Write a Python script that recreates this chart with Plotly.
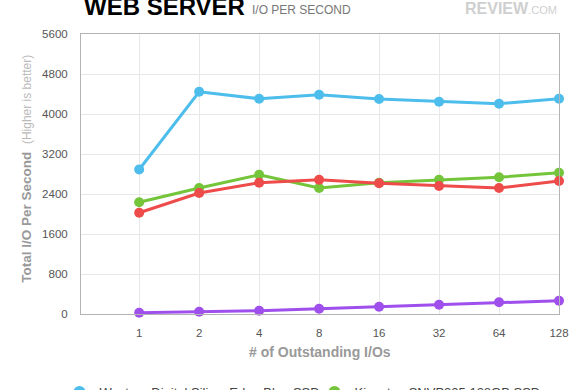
import plotly.graph_objects as go

categories = ["1", "2", "4", "8", "16", "32", "64", "128"]
series_names = [
    "Western Digital SiliconEdge Blue SSD",
    "Kingston SNVP325 128GB SSD",
    "Intel X25-M G2 160GB SSD",
    "Western Digital VelociRaptor HDD",
]
wd_blue = [2890, 4445, 4305, 4385, 4300, 4245, 4205, 4305]
kingston = [2235, 2520, 2785, 2520, 2625, 2685, 2735, 2825]
intel = [2025, 2420, 2625, 2685, 2615, 2560, 2520, 2660]
hdd = [26, 46, 66, 106, 146, 186, 234, 266]
y_ticks = [0, 800, 1600, 2400, 3200, 4000, 4800, 5600]

colors = ["#4DBDEC", "#74C53A", "#EE4B4B", "#9F50EC"]
all_series = [wd_blue, kingston, intel, hdd]

FONT = "Liberation Sans, Arial, sans-serif"

fig = go.Figure()
for name, vals, col in zip(series_names, all_series, colors):
    fig.add_trace(go.Scatter(
        x=categories, y=vals, mode="lines+markers", name=name,
        line=dict(color=col, width=3),
        marker=dict(color=col, size=10),
        cliponaxis=False, showlegend=False,
    ))
# legend entries (circle only)
for name, col in zip(series_names, colors):
    fig.add_trace(go.Scatter(
        x=[None], y=[None], mode="markers", name=name,
        marker=dict(color=col, size=12), showlegend=True,
    ))

fig.update_layout(
    width=580, height=390,
    margin=dict(l=81, r=21, t=34, b=76, autoexpand=False),
    paper_bgcolor="white", plot_bgcolor="white",
    font=dict(family=FONT, color="#555"),
    showlegend=True,
    legend=dict(
        orientation="h", x=-0.045, xanchor="left", y=-0.225, yanchor="top",
        font=dict(size=13, color="#444", family=FONT),
        entrywidth=210, entrywidthmode="pixels",
        itemclick=False, itemdoubleclick=False,
    ),
    xaxis=dict(
        type="category", categoryorder="array", categoryarray=categories,
        range=[-0.97, 7],
        showgrid=True, gridcolor="#e8e8e8", gridwidth=1,
        showline=True, mirror=True, linecolor="#b3b3b3", linewidth=1,
        zeroline=False,
        tickfont=dict(size=11.5, color="#555", family=FONT),
        ticks="", ticklabelstandoff=8,
    ),
    yaxis=dict(
        range=[0, 5600], tickvals=y_ticks,
        ticktext=[str(v) for v in y_ticks],
        showgrid=True, gridcolor="#e8e8e8", gridwidth=1,
        showline=True, mirror=True, linecolor="#b3b3b3", linewidth=1,
        zeroline=False,
        tickfont=dict(size=11.5, color="#555", family=FONT),
        ticks="", ticklabelstandoff=10,
    ),
    annotations=[
        dict(text="<b>WEB SERVER</b>", xref="paper", yref="paper",
             x=0.003, y=1.099, xanchor="left", yanchor="middle",
             showarrow=False, font=dict(size=24, color="#000", family=FONT)),
        dict(text="I/O PER SECOND", xref="paper", yref="paper",
             x=0.354, y=1.085, xanchor="left", yanchor="middle",
             showarrow=False, font=dict(size=12, color="#777", family=FONT)),
        dict(text="<b>REVIEW</b><span style='font-size:11px'>.COM</span>",
             xref="paper", yref="paper",
             x=1.0, y=1.09, xanchor="right", yanchor="middle",
             showarrow=False, font=dict(size=16, color="#cfcfcf", family=FONT)),
        dict(text="<b># of Outstanding I/Os</b>", xref="paper", yref="paper",
             x=0.5, y=-0.135, xanchor="center", yanchor="middle",
             showarrow=False, font=dict(size=14, color="#999", family=FONT)),
        dict(text="<b>Total I/O Per Second</b>  <span style='font-size:12px;color:#bbbbbb'>(Higher is better)</span>",
             xref="paper", yref="paper", textangle=-90,
             x=-0.113, y=0.519, xanchor="center", yanchor="middle",
             showarrow=False, font=dict(size=13.5, color="#999", family=FONT)),
    ],
)

fig.write_html(
    "out.html",
    config={"displayModeBar": False},
    post_script="document.body.style.margin='0';document.body.style.overflow='hidden';",
)
